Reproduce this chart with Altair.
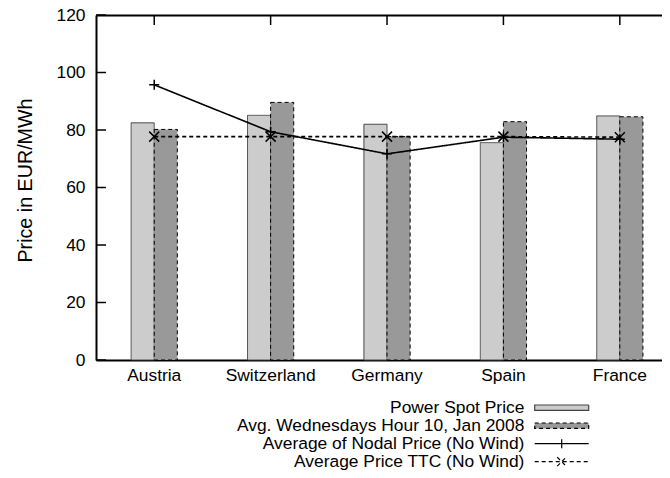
import altair as alt
import pandas as pd

countries = ["Austria", "Switzerland", "Germany", "Spain", "France"]
spot_price = [82.5, 85.1, 82.0, 75.6, 84.9]
avg_wednesdays = [80.2, 89.6, 77.7, 82.9, 84.6]
nodal_price = [95.7, 79.4, 71.7, 77.5, 76.8]
ttc_price = [77.7, 77.7, 77.7, 77.7, 77.5]
y_ticks = [0, 20, 40, 60, 80, 100, 120]
series = [
    "Power Spot Price",
    "Avg. Wednesdays Hour 10, Jan 2008",
    "Average of Nodal Price (No Wind)",
    "Average Price TTC (No Wind)",
]

idx = list(range(len(countries)))
bars_df = pd.DataFrame({
    "country": countries * 2,
    "series": [series[0]] * 5 + [series[1]] * 5,
    "price": spot_price + avg_wednesdays,
})
lines_df = pd.DataFrame({
    "country": countries * 2,
    "idx": idx * 2,
    "series": [series[2]] * 5 + [series[3]] * 5,
    "price": nodal_price + ttc_price,
})
yticks_df = pd.DataFrame({"v": y_ticks})
cat_df = pd.DataFrame({"country": countries})

FONT = "Liberation Sans"
FS = 17.4

x_scale = alt.Scale(domain=countries, paddingInner=0.603, paddingOuter=0.2328, align=0.648)
y_scale = alt.Scale(domain=[0, 120], nice=False)

rect_path = "M-4.5,-0.45L4.5,-0.45L4.5,0.45L-4.5,0.45Z"
plus_line = "M-4.5,0L4.5,0M0,-0.75L0,0.75"
cross_line = "M-4.5,0L4.5,0M-0.75,-0.75L0.75,0.75M-0.75,0.75L0.75,-0.75"

fill_scale = alt.Scale(domain=series, range=["#cccccc", "#999999", "transparent", "transparent"])
stroke_scale = alt.Scale(domain=series, range=["#444444", "#000000", "#000000", "#000000"])
dash_scale = alt.Scale(domain=series, range=[[1, 0], [4, 3], [1, 0], [4, 3]])
shape_scale = alt.Scale(domain=series, range=[rect_path, rect_path, plus_line, cross_line])
leg = alt.Legend(title=None, rowPadding={"expr": "-5"})

y_axis = alt.Axis(
    orient="left",
    title="Price in EUR/MWh", values=y_ticks, ticks=False, tickSize=0, grid=False,
    domainColor="black", domainWidth=2, labelFontSize=FS, labelFont=FONT,
    labelColor="black", labelPadding=11, titleFontSize=19.7, titleFont=FONT,
    titleFontWeight="normal", titleColor="black", titleX=-65, titleY=165,
    titleBaseline="alphabetic", titleAlign="center",
)
x_axis = alt.Axis(
    orient="bottom",
    title=None, ticks=False, tickSize=0, grid=False, domainColor="black",
    domainWidth=2, labelFontSize=FS, labelFont=FONT, labelColor="black",
    labelPadding=6, labelAngle=0,
)
top_axis = alt.Axis(
    orient="top", title=None, ticks=False, labels=False, grid=False,
    domainColor="black", domainWidth=2,
)

bars = alt.Chart(bars_df).mark_bar(strokeWidth=1).encode(
    x=alt.X("country:N", scale=x_scale, axis=x_axis, sort=countries),
    xOffset=alt.XOffset("series:N", scale=alt.Scale(domain=series[:2])),
    y=alt.Y("price:Q", scale=y_scale, axis=y_axis),
    fill=alt.Fill("series:N", scale=fill_scale, legend=leg),
    stroke=alt.Stroke("series:N", scale=stroke_scale, legend=leg),
    strokeDash=alt.StrokeDash("series:N", scale=dash_scale, legend=leg),
)

lines = alt.Chart(lines_df).mark_line(strokeWidth=1.6).encode(
    x=alt.X("country:N", scale=x_scale, axis=None, sort=countries),
    y=alt.Y("price:Q", scale=y_scale, axis=None),
    stroke=alt.Stroke("series:N", scale=stroke_scale, legend=leg),
    strokeDash=alt.StrokeDash("series:N", scale=dash_scale, legend=leg),
    order=alt.Order("idx:Q"),
)

plus_pts = alt.Chart(lines_df).transform_filter(
    alt.datum.series == series[2]
).mark_point(shape="M-1,0L1,0M0,-1L0,1", size=100, filled=False,
             stroke="black", strokeWidth=1.5, opacity=1).encode(
    x=alt.X("country:N", scale=x_scale, axis=None, sort=countries),
    y=alt.Y("price:Q", scale=y_scale, axis=None),
)

cross_pts = alt.Chart(lines_df).transform_filter(
    alt.datum.series == series[3]
).mark_point(shape="M-1,-1L1,1M-1,1L1,-1", size=100, filled=False,
             stroke="black", strokeWidth=1.5, opacity=1).encode(
    x=alt.X("country:N", scale=x_scale, axis=None, sort=countries),
    y=alt.Y("price:Q", scale=y_scale, axis=None),
)

legend_dummy = alt.Chart(lines_df).mark_point(opacity=0).encode(
    x=alt.X("country:N", scale=x_scale, axis=None, sort=countries),
    y=alt.Y("price:Q", scale=y_scale, axis=None),
    shape=alt.Shape("series:N", scale=shape_scale, legend=leg),
)

left_ticks = alt.Chart(yticks_df).mark_rule(color="black", strokeWidth=1.5).encode(
    y=alt.Y("v:Q", scale=y_scale, axis=None),
    x=alt.value(0), x2=alt.value(10),
)
top_ticks = alt.Chart(cat_df).mark_rule(color="black", strokeWidth=1.5).encode(
    x=alt.X("country:N", scale=x_scale, axis=top_axis, sort=countries),
    y=alt.value(0), y2=alt.value(10),
)

chart = alt.layer(
    bars, lines, plus_pts, cross_pts, legend_dummy, left_ticks, top_ticks
).resolve_axis(x="independent", y="independent").properties(
    width=566, height=345,
    autosize=alt.AutoSizeParams(type="none"),
    padding={"left": 88, "top": 7, "right": 0, "bottom": 116},
).configure_view(stroke=None).configure_legend(
    orient="none", legendX=457, legendY=384, padding=0,
    labelFont=FONT, labelFontSize=FS, labelColor="black", labelAlign="right",
    labelOffset={"expr": "-46"}, labelLimit=400, symbolSize=144,
    symbolStrokeWidth=1.2, symbolOpacity=1,
)

chart.save("out.html", embed_options={"renderer": "svg", "actions": False})
